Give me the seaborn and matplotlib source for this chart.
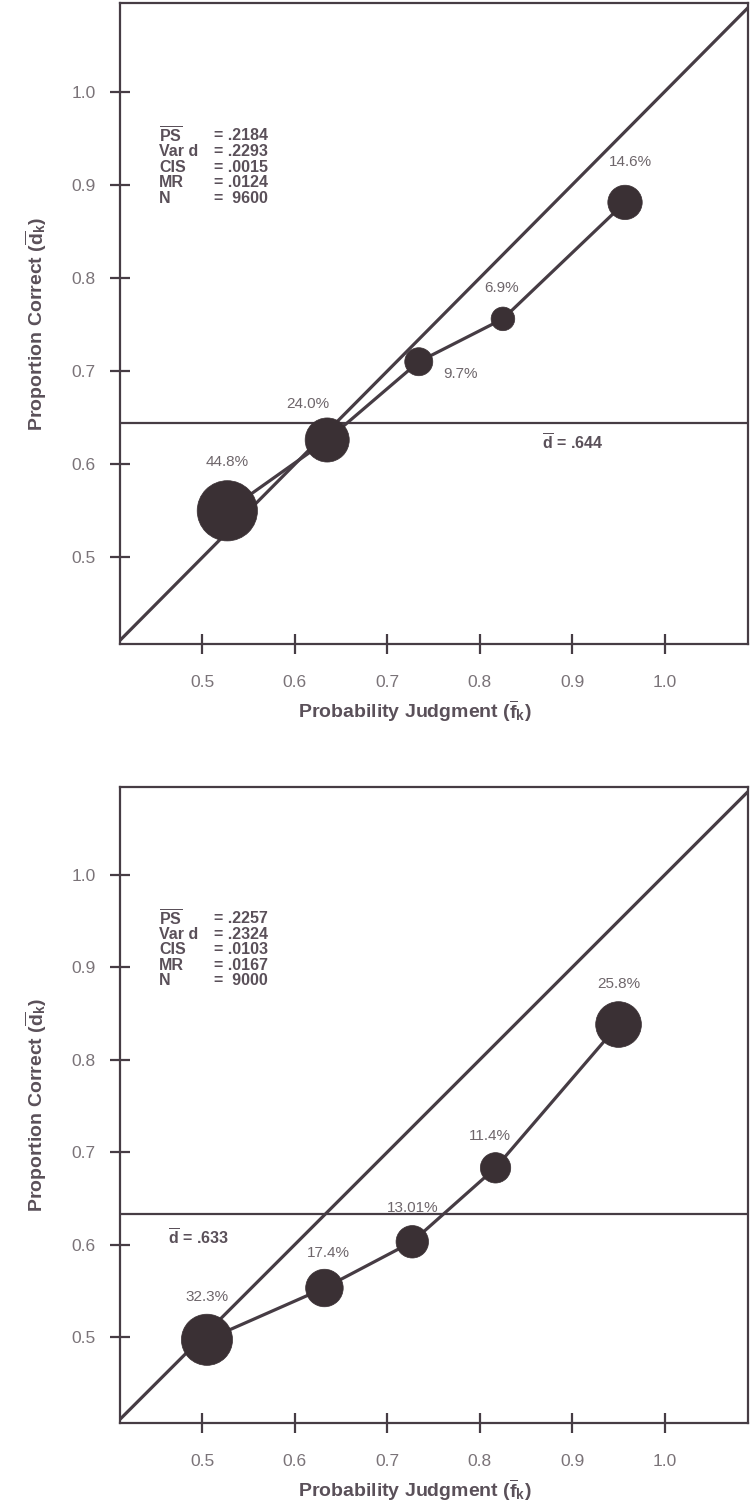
import numpy as np
import pandas as pd
import matplotlib
matplotlib.use('Agg')
import matplotlib.pyplot as plt
import seaborn as sns

# ── Data ──────────────────────────────────────────────
# panel 1
judg_1 = [0.527, 0.635, 0.734, 0.825, 0.957]
correct_1 = [0.550, 0.626, 0.710, 0.756, 0.881]
pct_1 = [44.8, 24.0, 9.7, 6.9, 14.6]
pct_lbl_1 = ['44.8%', '24.0%', '9.7%', '6.9%', '14.6%']
dbar_1 = 0.644
stat_names_1 = [r'$\overline{\mathbf{PS}}$', 'Var d', 'CIS', 'MR', 'N']
stat_vals_1 = ['= .2184', '= .2293', '= .0015', '= .0124', '=  9600']

# panel 2
judg_2 = [0.505, 0.632, 0.727, 0.817, 0.950]
correct_2 = [0.497, 0.553, 0.603, 0.683, 0.838]
pct_2 = [32.3, 17.4, 13.01, 11.4, 25.8]
pct_lbl_2 = ['32.3%', '17.4%', '13.01%', '11.4%', '25.8%']
dbar_2 = 0.633
stat_names_2 = [r'$\overline{\mathbf{PS}}$', 'Var d', 'CIS', 'MR', 'N']
stat_vals_2 = ['= .2257', '= .2324', '= .0103', '= .0167', '=  9000']

ticks = [0.5, 0.6, 0.7, 0.8, 0.9, 1.0]
tick_labels = ['0.5', '0.6', '0.7', '0.8', '0.9', '1.0']
identity = [0.0, 1.0]

# ── Style ─────────────────────────────────────────────
sns.set_theme(style='white')
plt.rcParams['font.family'] = ['Liberation Sans', 'DejaVu Sans']
plt.rcParams['mathtext.fontset'] = 'custom'
plt.rcParams['mathtext.rm'] = 'Liberation Sans'
plt.rcParams['mathtext.bf'] = 'Liberation Sans:bold'
plt.rcParams['mathtext.it'] = 'Liberation Sans:italic'

ink = '#463c44'
dot = '#3a3034'
txt = '#6e666b'
lbl = '#5a5059'

fig = plt.figure(figsize=(7.53, 15.09), dpi=100)
ax1 = fig.add_axes([0.1594, 0.5732, 0.834, 0.4248])
ax2 = fig.add_axes([0.1594, 0.0570, 0.834, 0.4215])

# label offsets in points (dx, dy)
offs_1 = [(0, 35), (-14, 26), (30, -9), (-1, 22), (4, 29)]
offs_2 = [(0, 31), (3, 25), (0, 24), (-4, 23), (0, 29)]

panels = [
    (ax1, judg_1, correct_1, pct_1, pct_lbl_1, offs_1, dbar_1,
     stat_names_1, stat_vals_1, (0.867, -14)),
    (ax2, judg_2, correct_2, pct_2, pct_lbl_2, offs_2, dbar_2,
     stat_names_2, stat_vals_2, (0.463, -17)),
]

for ax, xs, ys, pc, pl, offs, dbar, snames, svals, dpos in panels:
    df = pd.DataFrame({'judgment': xs, 'correct': ys, 'pct': pc})

    ax.axline((identity[0], identity[0]), (identity[1], identity[1]),
              color=ink, lw=2.3, zorder=1)
    ax.axhline(dbar, color=ink, lw=1.6, zorder=1)

    sns.lineplot(data=df, x='judgment', y='correct', sort=False,
                 color=ink, lw=2.3, ax=ax, zorder=2)
    sns.scatterplot(data=df, x='judgment', y='correct', size='pct',
                    sizes=(0, 2100), size_norm=(0, 50), color=dot,
                    edgecolor=dot, linewidth=0.5, legend=False,
                    ax=ax, zorder=3)

    for x, y, t, (dx, dy) in zip(xs, ys, pl, offs):
        ax.annotate(t, (x, y), xytext=(dx, dy), textcoords='offset points',
                    ha='center', va='center', fontsize=11, color=txt)

    ax.annotate(r'$\overline{\mathbf{d}}$ = .' + f'{dbar:.3f}'[2:],
                (dpos[0], dbar), xytext=(0, dpos[1]),
                textcoords='offset points', ha='left', va='center',
                fontsize=11.5, fontweight='bold', color=lbl)

    for i, (n, v) in enumerate(zip(snames, svals)):
        yy = 0.793 - i * 0.0245
        ax.text(0.062, yy, n, transform=ax.transAxes, fontsize=11.5,
                fontweight='bold', color=lbl, va='center')
        ax.text(0.150, yy, v, transform=ax.transAxes, fontsize=11.5,
                fontweight='bold', color=lbl, va='center')

    ax.set_xlim(0.411, 1.09)
    ax.set_ylim(0.407, 1.095)
    ax.set_xticks(ticks)
    ax.set_xticklabels(tick_labels)
    ax.set_yticks(ticks)
    ax.set_yticklabels(tick_labels)
    ax.tick_params(axis='both', direction='inout', length=15, width=1.6,
                   color=ink, labelsize=12.5, labelcolor='#7a7378')
    ax.tick_params(axis='x', pad=15)
    ax.tick_params(axis='y', pad=10)
    ax.xaxis.set_ticks_position('bottom')
    ax.yaxis.set_ticks_position('left')
    for s in ax.spines.values():
        s.set_color(ink)
        s.set_linewidth(1.6)

    ax.set_xlabel(r'Probability Judgment ($\overline{\mathbf{f}}_{\mathbf{k}}$)',
                  fontsize=14, fontweight='bold', color=lbl, labelpad=6)
    ax.set_ylabel(r'Proportion Correct ($\overline{\mathbf{d}}_{\mathbf{k}}$)',
                  fontsize=14, fontweight='bold', color=lbl, labelpad=16)
    ax.xaxis.label.set_x(0.47)

fig.savefig('out.png', dpi=100)
